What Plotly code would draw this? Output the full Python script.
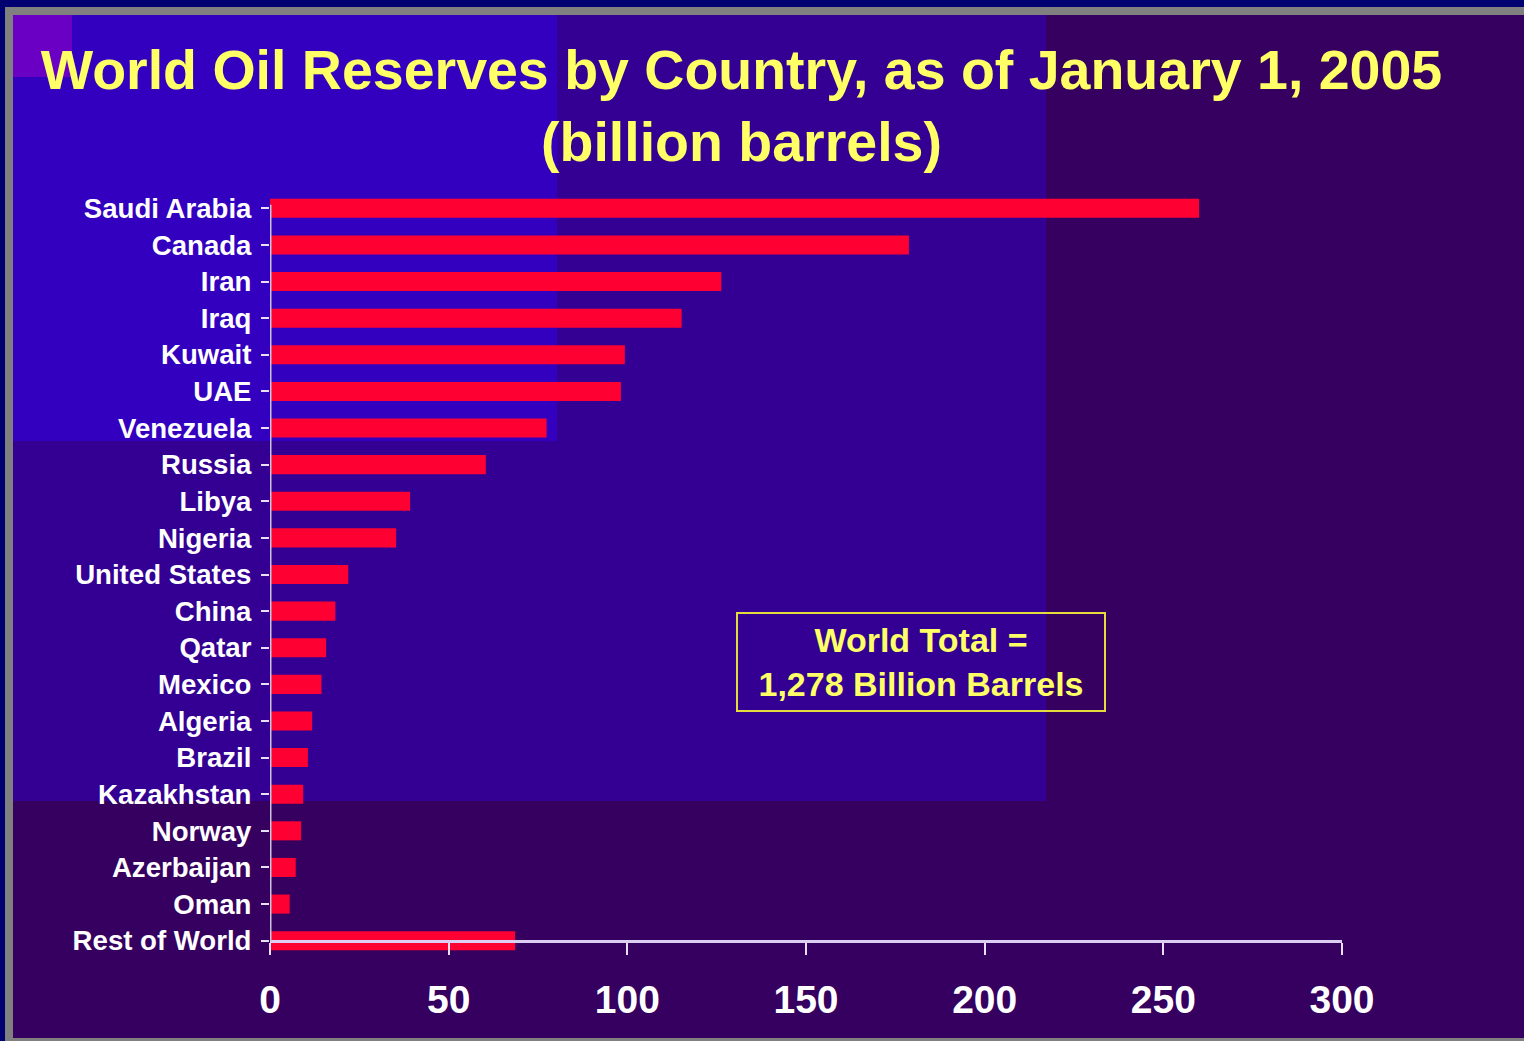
import plotly.graph_objects as go

# Proved reserves by country (billion barrels)
countries = ["Saudi Arabia", "Canada", "Iran", "Iraq", "Kuwait", "UAE", "Venezuela",
             "Russia", "Libya", "Nigeria", "United States", "China", "Qatar", "Mexico",
             "Algeria", "Brazil", "Kazakhstan", "Norway", "Azerbaijan", "Oman",
             "Rest of World"]
reserves = [260.0, 178.8, 126.3, 115.2, 99.3, 98.2, 77.4, 60.4, 39.2, 35.3, 21.9,
            18.3, 15.7, 14.4, 11.8, 10.6, 9.3, 8.7, 7.2, 5.5, 68.6]
x_ticks = [0, 50, 100, 150, 200, 250, 300]
title_lines = ["World Oil Reserves by Country, as of January 1, 2005", "(billion barrels)"]
note_lines = ["World Total =", "1,278 Billion Barrels"]

# page geometry (pixels)
FIG_W, FIG_H = 1524, 1041
M_L, M_R, M_T, M_B = 270, 182, 190, 82
PW = FIG_W - M_L - M_R
PH = FIG_H - M_T - M_B


def px_x(px):
    return (px - M_L) / PW


def px_y(py):
    return (FIG_H - M_B - py) / PH


FONT = "Liberation Sans, Arial, sans-serif"
YELLOW = "#ffff66"

fig = go.Figure(go.Bar(
    x=reserves, y=countries, orientation="h",
    marker=dict(color="#ff0033", line=dict(width=0)),
    width=0.52,
))


def rect(x0, y0, x1, y1, color):
    return dict(type="rect", xref="paper", yref="paper", layer="below",
                x0=px_x(x0), x1=px_x(x1), y0=px_y(y0), y1=px_y(y1),
                fillcolor=color, line=dict(width=0))


shapes = [
    rect(0, 0, FIG_W, FIG_H, "#000070"),
    rect(5, 7, FIG_W + 5, FIG_H, "#808080"),
    rect(13, 15, FIG_W + 5, FIG_H - 3, "#360060"),
    rect(13, 15, 1046, 801, "#330093"),
    rect(13, 15, 557, 441, "#3300c0"),
    rect(13, 15, 72, 77, "#6a00c4"),
    # vertical value axis line, from the top category down to the category axis
    dict(type="line", xref="x", yref="y", x0=0, x1=0, y0=-0.1, y1=len(countries) - 1,
         line=dict(color="#c8c4dc", width=3), layer="above"),
]

fig.update_layout(
    width=FIG_W, height=FIG_H,
    paper_bgcolor="#360060", plot_bgcolor="rgba(0,0,0,0)",
    margin=dict(l=M_L, r=M_R, t=M_T, b=M_B, pad=0, autoexpand=False),
    showlegend=False,
    shapes=shapes,
    title=dict(
        text="<br>".join(title_lines),
        x=741.5 / FIG_W, y=1 - 89 / FIG_H, xref="container", yref="container",
        xanchor="center", yanchor="middle",
        font=dict(family=FONT, size=55.5, color=YELLOW, weight="bold"),
    ),
    xaxis=dict(
        range=[0, 300], tickvals=x_ticks, ticktext=[str(v) for v in x_ticks],
        showgrid=False, zeroline=False,
        showline=True, linecolor="#dccdf2", linewidth=3,
        ticks="outside", ticklen=12, tickwidth=2, tickcolor="#e8e0f4",
        tickfont=dict(family=FONT, size=39, color="white", weight="bold"),
        ticklabelstandoff=11,
        anchor="free", position=px_y(941),
        fixedrange=True,
    ),
    yaxis=dict(
        categoryorder="array", categoryarray=countries,
        range=[len(countries) - 0.5, -0.5],
        showgrid=False, zeroline=False, showline=False,
        ticks="outside", ticklen=8, tickwidth=2, tickcolor="#e8e0f4",
        tickfont=dict(family=FONT, size=27.6, color="white", weight="bold"),
        ticklabelstandoff=4,
        fixedrange=True,
    ),
    annotations=[dict(
        xref="paper", yref="paper", x=px_x(921), y=px_y(662),
        xanchor="center", yanchor="middle",
        text="<br>".join(note_lines), showarrow=False, align="center",
        font=dict(family=FONT, size=34, color=YELLOW, weight="bold"),
        width=366, height=96, bordercolor="#e4dc3c", borderwidth=2, borderpad=0,
    )],
)

fig.write_html("out.html")
